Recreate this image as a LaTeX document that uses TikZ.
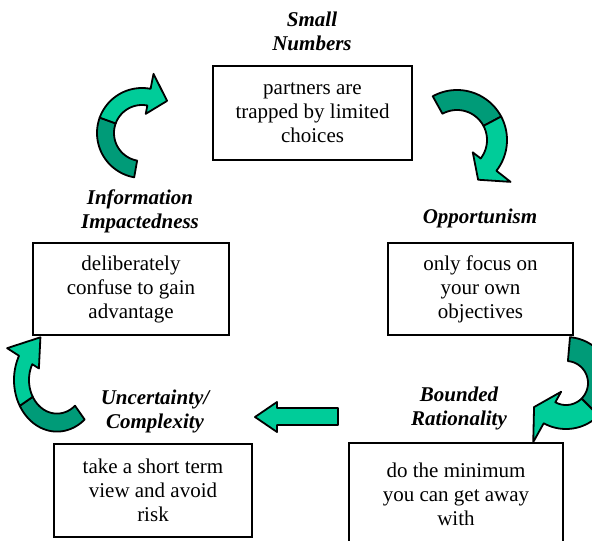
\documentclass[tikz,border=0pt]{standalone}
\usepackage{fontspec}
\setmainfont{Liberation Serif}
\definecolor{arrowlight}{RGB}{0,204,153}
\definecolor{arrowdark}{RGB}{0,155,120}
\newcommand{\bentarrow}[9] % {cx}{cy}{rin}{rout}{tail}{split}{back}{tip}{yscale}
{
	\filldraw [fill=arrowdark, draw=black, line width=1.8pt, line join=round]
		plot[domain=#5:#6, samples=40, variable=\t] ({#1+#4*cos(\t)},{#2+#9*#4*sin(\t)})
		-- plot[domain=#6:#5, samples=40, variable=\t] ({#1+#3*cos(\t)},{#2+#9*#3*sin(\t)}) -- cycle;
	\filldraw [fill=arrowlight, draw=black, line width=1.8pt, line join=round]
		plot[domain=#6:#7, samples=40, variable=\t] ({#1+#4*cos(\t)},{#2+#9*#4*sin(\t)})
		-- ({#1+(#4+0.9*(#4-#3))*cos(#7)},{#2+#9*(#4+0.9*(#4-#3))*sin(#7)})
		-- ({#1+(#3+0.75*(#4-#3))*cos(#8)},{#2+#9*(#3+0.75*(#4-#3))*sin(#8)})
		-- ({#1+(#3-0.5*(#4-#3))*cos(#7)},{#2+#9*(#3-0.5*(#4-#3))*sin(#7)})
		-- plot[domain=#7:#6, samples=40, variable=\t] ({#1+#3*cos(\t)},{#2+#9*#3*sin(\t)}) -- cycle;
}
\tikzset{
	factbox/.style={draw, line width=2.5pt, align=center, inner sep=0pt, font=\fontsize{21}{24}\selectfont},
	factor/.style={align=center, inner sep=0pt, font=\fontsize{21}{24}\selectfont\bfseries\itshape},
}

\begin{document}
\begin{tikzpicture}[x=1pt, y=-1pt]

	\clip (0,0) rectangle (592,541);

	\node[factor] (numberslabel) at (312,31) {Small\\Numbers};
	\node[factbox, minimum width=199pt, minimum height=94pt] (numbersbox) at (312.5,113) {partners are\\trapped by limited\\choices};

	\node[factor] (infolabel) at (140,211) {Information\\Impactedness};
	\node[factbox, minimum width=196pt, minimum height=92pt] (infobox) at (131,289) {deliberately\\confuse to gain\\advantage};

	\node[factor] (opportlabel) at (480,218) {Opportunism};
	\node[factbox, minimum width=185pt, minimum height=92pt] (opportbox) at (480.5,289) {only focus on\\your own\\objectives};

	\node[factor] (boundedlabel) at (459,408) {Bounded\\Rationality};
	\node[factbox, minimum width=214pt, minimum height=102pt] (boundedbox) at (456,494) {do the minimum\\you can get away\\with};

	\node[factor] (uncertlabel) at (155,411) {Uncertainty/\\Complexity};
	\node[factbox, minimum width=198pt, minimum height=93pt] (uncertbox) at (153,490.5) {take a short term\\view and avoid\\risk};

	% curved arrows round the cycle
	\bentarrow{142}{133}{28}{45}{100}{200}{281}{308}{1}
	\bentarrow{457}{140}{30}{50}{241}{332}{398}{422}{1}
	\bentarrow{566}{383}{22}{46}{275}{405}{479}{503}{1}
	\bentarrow{57}{380}{28}{43}{50}{150}{208}{245}{1.2}

	\filldraw [fill=arrowlight, draw=black, line width=1.8pt, line join=round] (338,408) -- (277,408) -- (277,402) -- (255,417) -- (277,432) -- (277,425) -- (338,425) -- cycle;

\end{tikzpicture}
\end{document}
